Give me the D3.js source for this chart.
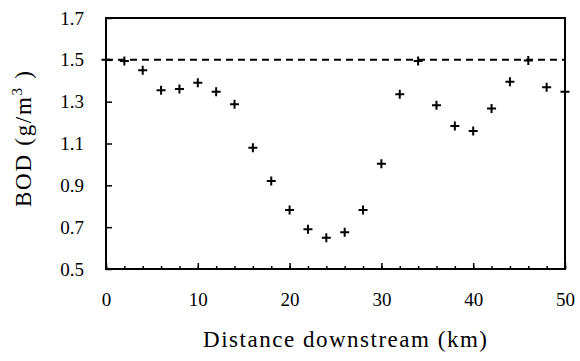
<!DOCTYPE html>
<html>
<head>
<meta charset="utf-8">
<script src="https://cdn.jsdelivr.net/npm/d3@7"></script>
<style>
  body { margin: 0; background: white; }
  svg text { font-family: "Liberation Serif", "Times New Roman", serif !important; fill: black; }
</style>
</head>
<body>
<div id="container"></div>
<script>
// distance (km) and BOD (g/m3)
let distance = [0, 2, 4, 6, 8, 10, 12, 14, 16, 18, 20, 22, 24, 26, 28, 30, 32, 34, 36, 38, 40, 42, 44, 46, 48, 50];
let bod = [1.50, 1.495, 1.45, 1.355, 1.36, 1.39, 1.348, 1.288, 1.08, 0.921, 0.782, 0.69, 0.65, 0.676, 0.782, 1.003,
  1.336, 1.495, 1.283, 1.184, 1.16, 1.267, 1.395, 1.497, 1.369, 1.347];
let limit = 1.5;
let xTicks = [0, 10, 20, 30, 40, 50];
let xMinorTicks = d3.range(0, 51, 2);
let yTicks = [0.5, 0.7, 0.9, 1.1, 1.3, 1.5, 1.7];

let w = 580;
let h = 361;
let plotLeft = 106, plotRight = 565, plotTop = 18, plotBottom = 269;
let serif = "'Liberation Serif', 'Times New Roman', serif";

let svg = d3.select("#container")
  .append("svg")
  .attr("width", w)
  .attr("height", h);

let xScale = d3.scaleLinear().domain([0, 50]).range([plotLeft, plotRight]);
let yScale = d3.scaleLinear().domain([0.5, 1.7]).range([plotBottom, plotTop]);

// plot frame
svg.append("rect")
  .attr("x", plotLeft)
  .attr("y", plotTop)
  .attr("width", plotRight - plotLeft)
  .attr("height", plotBottom - plotTop)
  .attr("fill", "none")
  .attr("stroke", "black")
  .attr("stroke-width", 2);

// x axis: minor ticks every 2 km, major every 10
let xAxisMinor = d3.axisBottom(xScale).tickValues(xMinorTicks).tickSize(-3).tickFormat("");
svg.append("g")
  .attr("transform", "translate(0," + plotBottom + ")")
  .call(xAxisMinor)
  .call(g => g.select(".domain").remove())
  .selectAll("line").attr("stroke-width", 1.5);

let xAxis = d3.axisBottom(xScale).tickValues(xTicks).tickSize(-6).tickPadding(24).tickFormat(d3.format("d"));
svg.append("g")
  .attr("transform", "translate(0," + plotBottom + ")")
  .attr("font-family", serif)
  .attr("font-size", 19)
  .call(xAxis)
  .call(g => g.select(".domain").remove())
  .call(g => g.selectAll("line").attr("stroke-width", 1.5))
  .selectAll("text")
  .style("font-family", serif)
  .style("font-size", "19px");

let yAxis = d3.axisLeft(yScale).tickValues(yTicks).tickSize(-6).tickPadding(22).tickFormat(d3.format(".1f"));
svg.append("g")
  .attr("transform", "translate(" + plotLeft + ",0)")
  .attr("font-family", serif)
  .attr("font-size", 19)
  .call(yAxis)
  .call(g => g.select(".domain").remove())
  .call(g => g.selectAll("line").attr("stroke-width", 1.5))
  .selectAll("text")
  .style("font-family", serif)
  .style("font-size", "19px");

// limit line
svg.append("line")
  .attr("x1", xScale(0))
  .attr("x2", xScale(50))
  .attr("y1", yScale(limit))
  .attr("y2", yScale(limit))
  .attr("stroke", "black")
  .attr("stroke-width", 2)
  .attr("stroke-dasharray", "7,5");

// plus markers
let pts = distance.map((d, i) => ({ x: d, y: bod[i] }));
let s = 4.5;
svg.append("g").selectAll("path").data(pts).enter()
  .append("path")
  .attr("d", d => {
    let cx = xScale(d.x), cy = yScale(d.y);
    return "M" + (cx - s) + "," + cy + "H" + (cx + s) + "M" + cx + "," + (cy - s) + "V" + (cy + s);
  })
  .attr("stroke", "black")
  .attr("stroke-width", 2)
  .attr("fill", "none");

// axis titles
svg.append("text")
  .attr("x", 203)
  .attr("y", 347)
  .attr("textLength", 284)
  .attr("lengthAdjust", "spacing")
  .style("font-family", serif)
  .style("font-size", "23px")
  .text("Distance downstream (km)");

let yTitle = svg.append("text")
  .attr("transform", "translate(31,139) rotate(-90)")
  .attr("text-anchor", "middle")
  .attr("textLength", 136)
  .attr("lengthAdjust", "spacing")
  .style("font-family", serif)
  .style("font-size", "23px");
yTitle.append("tspan").text("BOD (g/m");
yTitle.append("tspan").style("font-size", "15px").attr("dy", -9).text("3");
yTitle.append("tspan").attr("dy", 9).text(" )");
</script>
</body>
</html>
